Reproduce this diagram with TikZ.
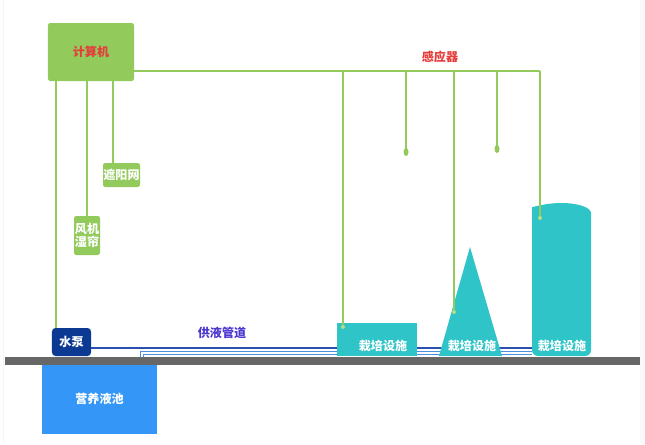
\documentclass[tikz,border=0pt]{standalone}
\usepackage{fontspec}
\newfontfamily\cjk{Noto Sans CJK SC}
\usetikzlibrary{calc}
\definecolor{cG}{HTML}{92CA5C}
\definecolor{cDot}{HTML}{B5DE7E}
\definecolor{cR}{HTML}{E63C3C}
\definecolor{cT}{HTML}{2FC5C8}
\definecolor{cN}{HTML}{0C3A93}
\definecolor{cB}{HTML}{3497F8}
\definecolor{cP}{HTML}{4A8FE2}
\definecolor{cF}{HTML}{2A50B0}
\definecolor{cV}{HTML}{4B36CF}
\definecolor{cGr}{HTML}{676767}
\tikzset{
  cn/.style={font=\cjk\bfseries\fontsize{10.3}{12.5}\selectfont},
  blk/.style={cn, fill=cG, text=white, rounded corners=2pt, inner sep=0pt, align=center},
  wire/.style={draw=cG, line width=1.4pt},
  feed/.style={draw=cF, line width=1.5pt},
  pipe/.style={draw=cP, line width=1pt, double=white, double distance=0.06cm},
  lbl/.style={cn, text=white}
}
\begin{document}
\begin{tikzpicture}[x=0.03cm, y=-0.03cm]
  \useasboundingbox (0,0) rectangle (645,444);
  \fill[gray!5] (640,0) rectangle (645,444);
  \draw[gray!8, line width=0.6pt] (3,0) -- (3,444);
  % control side
  \node[blk, text=cR, minimum width=2.58cm, minimum height=1.74cm] (pc) at (91,52) {计算机};
  \node[blk, minimum width=1.11cm, minimum height=0.72cm] (shade) at (121.5,175) {遮阳网};
  \node[blk, minimum width=0.78cm, minimum height=1.17cm] (fan) at (87,235.5) {风机\\[-1pt]湿帘};
  \node[blk, fill=cN, rounded corners=3pt, minimum width=1.17cm, minimum height=0.84cm] (pump) at (71.5,342) {水泵};
  \draw[wire] ([xshift=0.12cm]pump.north west) coordinate (d1) -- (d1 |- pc.south);
  \draw[wire] (fan.north) -- (fan.north |- pc.south);
  \draw[wire] ([xshift=0.3cm]shade.north west) coordinate (d3) -- (d3 |- pc.south);
  % sensor bus
  \coordinate (bus) at (540,71);
  \draw[wire] (pc.east |- bus) -- (bus);
  \node[cn, text=cR] (sens) at (440,57) {感应器};
  \foreach \x/\y/\n in {406/152/s1, 497/149/s2} {
    \coordinate (\n) at (\x,\y);
    \draw[wire] (\n |- bus) -- (\n);
    \fill[cG] (\n) ellipse[x radius=0.075cm, y radius=0.12cm];
  }
  % pool, pipes, ground
  \node[lbl, fill=cB, minimum width=3.45cm, minimum height=2.13cm] (pool) at (99.5,398.5) {营养液池};
  \coordinate (cylL) at (532,356);
  \draw[feed] ([yshift=0.24cm]pump.south east) coordinate (f0) -- (f0 -| cylL);
  \coordinate (tap) at (142,357);
  \draw[pipe] (tap) -- ++(0,-4) coordinate (t1) -- (t1 -| cylL);
  \node[cn, text=cV] (plabel) at (222,333) {供液管道};
  \fill[cGr] (5,357) rectangle (640,365);
  % cultivation units
  \fill[cT] (337,323) rectangle (417,356);
  \fill[cT] (439,356) -- (470,247) -- (502,356) -- cycle;
  \fill[cT, rounded corners=5] (591,213) -- (591,356) -- (532,356) -- (532,213)
    [sharp corners] arc[start angle=180, end angle=0, x radius=0.885cm, y radius=0.3cm];
  \node[lbl] (u1) at (383,346) {栽培设施};
  \node[lbl] (u2) at (472,346) {栽培设施};
  \node[lbl] (u3) at (562,346) {栽培设施};
  \foreach \x/\y/\n in {343/327/c1, 454/312/c2, 540/218/c3} {
    \coordinate (\n) at (\x,\y);
    \draw[wire] (\n |- bus) -- (\n);
    \fill[cDot] (\n) circle[radius=0.06cm];
  }
\end{tikzpicture}
\end{document}
